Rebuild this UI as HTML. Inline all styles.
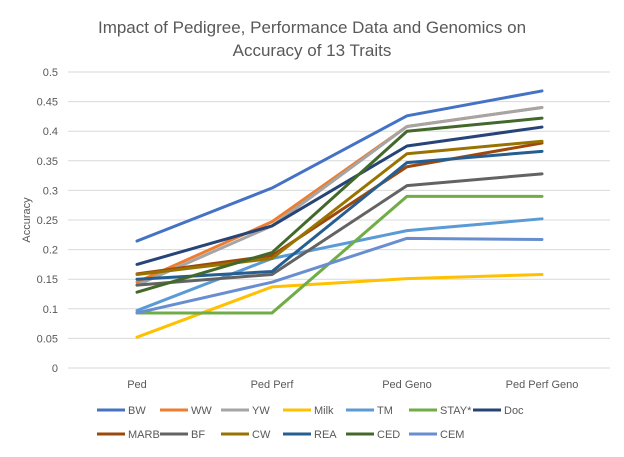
<!DOCTYPE html>
<html><head><meta charset="utf-8"><style>
body{margin:0;background:#fff;font-family:"Liberation Sans",sans-serif}
svg text{font-family:"Liberation Sans",sans-serif}
</style></head><body>
<svg id="chart" width="624" height="452" viewBox="0 0 624 452">
<rect width="624" height="452" fill="#fff"/>
<text x="312" y="33" text-anchor="middle" font-size="17" fill="#595959">Impact of Pedigree, Performance Data and Genomics on</text>
<text x="312" y="56" text-anchor="middle" font-size="17" fill="#595959">Accuracy of 13 Traits</text>
<text transform="translate(30,220) rotate(-90)" text-anchor="middle" font-size="11" fill="#595959">Accuracy</text>
<g id="grid"></g><g id="lines"></g><g id="legend"></g>
</svg>
<script>
const categories=["Ped","Ped Perf","Ped Geno","Ped Perf Geno"];
const yTicks=[0,0.05,0.1,0.15,0.2,0.25,0.3,0.35,0.4,0.45,0.5];
const seriesNames=["BW","WW","YW","Milk","TM","STAY*","Doc","MARB","BF","CW","REA","CED","CEM"];
const seriesColors=["#4472c4","#ed7d31","#a5a5a5","#ffc000","#5b9bd5","#70ad47","#264478","#9e480e","#636363","#997300","#255e91","#43682b","#698ed0"];
const BW=[0.2145,0.304,0.426,0.468];
const WW=[0.145,0.247,0.408,0.44];
const YW=[0.14,0.24,0.408,0.44];
const Milk=[0.052,0.137,0.151,0.158];
const TM=[0.097,0.185,0.232,0.252];
const STAY=[0.093,0.093,0.29,0.29];
const Doc=[0.175,0.24,0.375,0.407];
const MARB=[0.159,0.19,0.34,0.38];
const BF=[0.14,0.158,0.308,0.328];
const CW=[0.158,0.185,0.362,0.383];
const REA=[0.15,0.163,0.347,0.366];
const CED=[0.128,0.195,0.40,0.422];
const CEM=[0.093,0.145,0.219,0.217];
const seriesValues=[BW,WW,YW,Milk,TM,STAY,Doc,MARB,BF,CW,REA,CED,CEM];
const NS="http://www.w3.org/2000/svg";
const x=i=>137+i*135;
const y=v=>368-v*592;
function mk(tag,attrs,parent){const e=document.createElementNS(NS,tag);for(const k in attrs)e.setAttribute(k,attrs[k]);parent.appendChild(e);return e;}
const grid=document.getElementById('grid');
yTicks.forEach(t=>{
 const l=mk('line',{x1:68,x2:610,y1:y(t),y2:y(t),stroke:'#d9d9d9','stroke-width':1},grid);
 
 
 const tx=mk('text',{x:58,y:y(t)+4,'text-anchor':'end','font-size':11,fill:'#595959'},grid);
 tx.textContent=String(t);
 
 
});
categories.forEach((c,i)=>{
 const tx=mk('text',{x:x(i),y:388,'text-anchor':'middle','font-size':11,fill:'#595959'},grid);
 tx.textContent=c;
 
 
});
const lines=document.getElementById('lines');
seriesValues.forEach((vals,s)=>{
 const p=mk('polyline',{points:vals.map((v,i)=>x(i)+','+y(v)).join(' '),fill:'none',stroke:seriesColors[s],'stroke-width':3,'stroke-linejoin':'round','stroke-linecap':'round'},lines);
 
 
});
const legend=document.getElementById('legend');
const lx=[97,160,221,283,346,409,473];
seriesNames.forEach((n,i)=>{
 const row=i<7?0:1, col=i<7?i:i-7;
 const yy=row?434:410;
 const g=mk('g',{},legend);
 
 
 mk('line',{x1:lx[col],x2:lx[col]+28,y1:yy,y2:yy,stroke:seriesColors[i],'stroke-width':3},g);
 const t=mk('text',{x:lx[col]+31,y:yy+4,'font-size':11,fill:'#595959'},g);
 t.textContent=n;
});
</script>
</body></html>
